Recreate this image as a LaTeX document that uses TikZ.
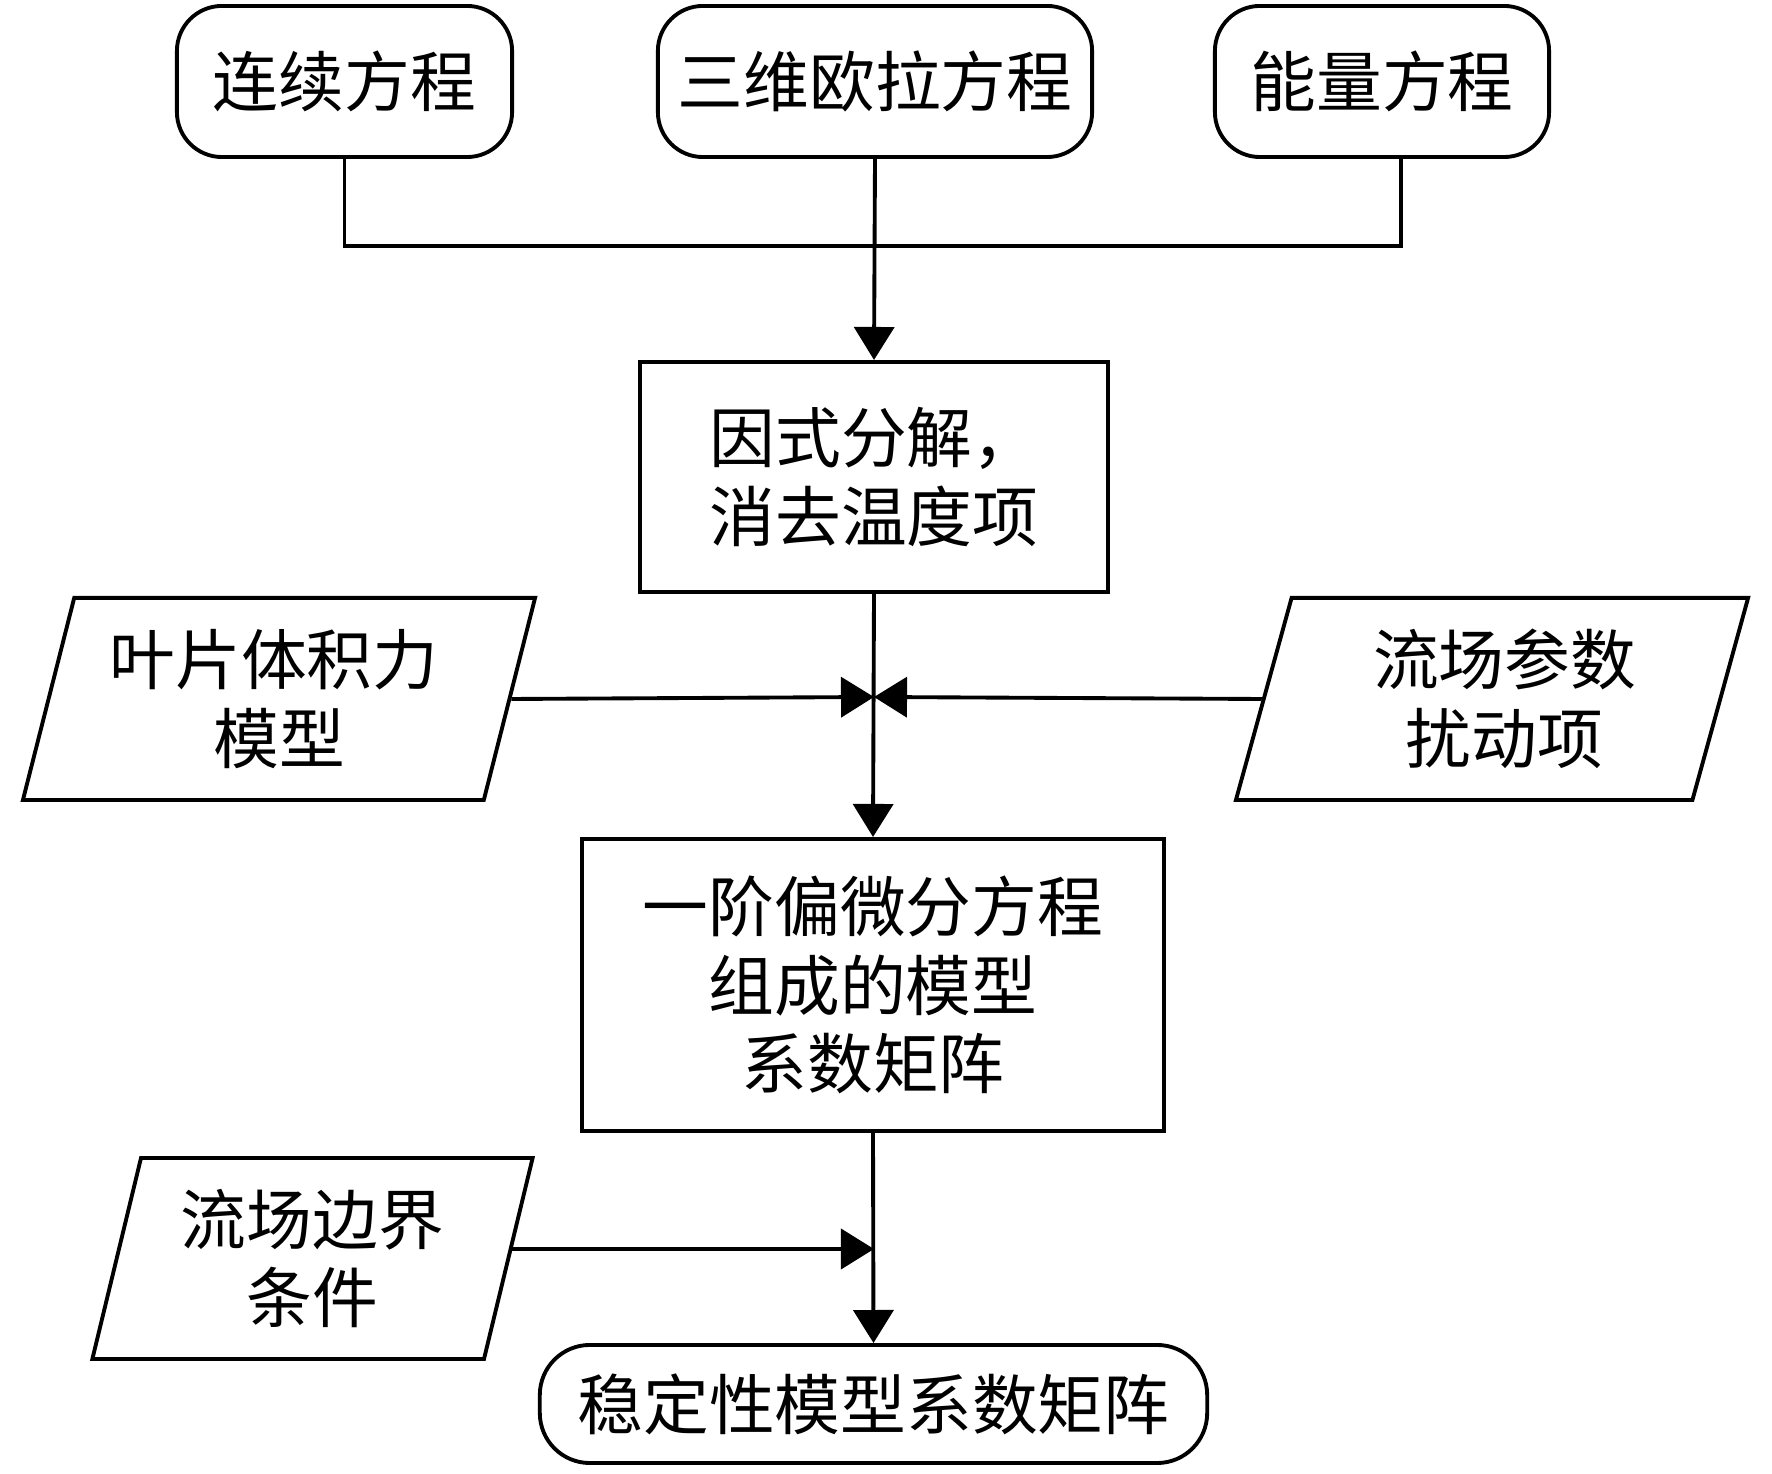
\documentclass[tikz,border=0pt]{standalone}
\usepackage{fontspec}
\newfontfamily\cjk{Noto Sans CJK SC}
\usetikzlibrary{arrows.meta, shapes.geometric}

\begin{document}
\begin{tikzpicture}[x = 0.01cm, y = -0.01cm, line width = 1.1pt,
		every node/.append style = {font=\cjk\fontsize{18.7}{22.4}\selectfont, align=center, inner sep=0pt},
		eqn/.style = {draw, rounded corners=0.45cm, minimum height=1.51cm},
		proc/.style = {draw},
		datain/.style = {draw, trapezium, trapezium stretches=true, trapezium left angle=#1, trapezium right angle=180-#1, minimum height=2.02cm},
		datain/.default = 74,
		flow/.style = {-{Triangle[length=0.33cm, width=0.4cm]}}]
	\useasboundingbox (0,0) rectangle (1772,1474);

	\node[eqn, minimum width=3.35cm] (cont) at (344.5,81.5) {连续方程};
	\node[eqn, minimum width=4.34cm] (euler) at (875,81.5) {三维欧拉方程};
	\node[eqn, minimum width=3.34cm] (energy) at (1382,81.5) {能量方程};

	\node[proc, minimum width=4.68cm, minimum height=2.30cm] (fact) at (874,477) {因式分解，\\消去温度项};

	\node[datain, minimum width=5.12cm] (blade) at (279,699) {\hspace*{-0.1cm}叶片体积力\\模型};
	\node[datain, minimum width=5.12cm] (pert) at (1492,699) {\hspace*{0.25cm}流场参数\\\hspace*{0.25cm}扰动项};

	\node[proc, minimum width=5.82cm, minimum height=2.92cm] (pde) at (873,985) {一阶偏微分方程\\组成的模型\\系数矩阵};

	\node[datain=75, minimum width=4.41cm, minimum height=2.01cm] (bound) at (312.5,1258.5) {流场边界\\条件};

	\node[draw, rounded corners=0.5cm, minimum width=6.67cm, minimum height=1.18cm] (stab) at (873.5,1404) {稳定性模型系数矩阵};

	\coordinate (join) at (874,246);
	\coordinate (meet) at (874,697);
	\coordinate (meet2) at (874,1249);

	% three equations merge
	\draw (cont.south) |- (join) -| ([xshift=0.19cm]energy.south);
	\draw[flow] (euler.south) -- (fact.north);

	\draw[flow] (fact.south) -- (pde.north);
	\draw[flow] (blade.east) -- (meet);
	\draw[flow] (pert.west) -- (meet);

	\draw[flow] (pde.south) -- (stab.north);
	\draw[flow] (bound.east |- meet2) -- (meet2);
\end{tikzpicture}
\end{document}
